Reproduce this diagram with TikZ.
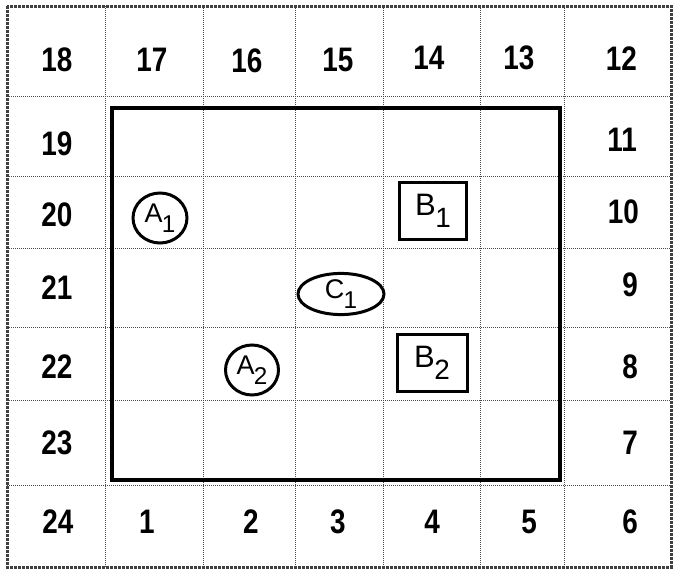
\documentclass[tikz,border=0pt]{standalone}
\usepackage{fontspec}
\setmainfont{Liberation Sans}
\usepackage{graphicx}
\usetikzlibrary{shapes.geometric}
\tikzset{
  gridline/.style={draw=black!70, densely dotted, line width=1pt},
  frameline/.style={draw=black!75, densely dotted, line width=3pt},
  bigbox/.style={draw=black, line width=4pt},
  num/.style={font=\fontsize{34}{34}\selectfont\bfseries, inner sep=0pt},
  rnum/.style={num, anchor=east},
  circ/.style={draw=black, line width=3pt, ellipse, inner sep=0pt},
  sq/.style={draw=black, line width=3pt, rectangle, inner sep=0pt},
  oval/.style={draw=black, line width=3pt, ellipse, inner sep=0pt}
}
\newcommand{\nm}[1]{\scalebox{0.82}[1]{#1}}
\newcommand{\lab}[3]{{\fontsize{#3}{#3}\selectfont #1\kern-0.02em\raisebox{-0.38em}{\fontsize{0.9\dimexpr#3pt}{0}\selectfont #2}}}
\begin{document}
\begin{tikzpicture}[x=1pt,y=-1pt]
\useasboundingbox (0,0) rectangle (673,570);
\fill[white] (0,0) rectangle (673,570);
% grid
\foreach \gx in {105,203,295,383,480,564} \draw[gridline] (\gx,6) -- (\gx,567);
\foreach \gy in {96,176,248,327,400,485} \draw[gridline] (7,\gy) -- (671,\gy);
\draw[frameline] (7,6) rectangle (671,567);
% thick box
\draw[bigbox] (112,108) rectangle (560,480);
% top row
\node[num] (n18) at (57,60) {\nm{18}};
\node[num] (n17) at (152,60) {\nm{17}};
\node[num] (n16) at (247,61) {\nm{16}};
\node[num] (n15) at (338,60) {\nm{15}};
\node[num] (n14) at (429,58) {\nm{14}};
\node[num] (n13) at (519,58) {\nm{13}};
\node[rnum] (n12) at (637,59) {\nm{12}};
% left column
\node[num] (n19) at (57,144) {\nm{19}};
\node[num] (n20) at (57,215) {\nm{20}};
\node[num] (n21) at (57,288) {\nm{21}};
\node[num] (n22) at (57,367) {\nm{22}};
\node[num] (n23) at (57,443) {\nm{23}};
\node[num] (n24) at (58,522) {\nm{24}};
% right column
\node[rnum] (n11) at (637,140) {\nm{11}};
\node[rnum] (n10) at (639,212) {\nm{10}};
\node[rnum] (n9) at (638,285) {\nm{9}};
\node[rnum] (n8) at (638,367) {\nm{8}};
\node[rnum] (n7) at (638,443) {\nm{7}};
\node[rnum] (n6) at (638,522) {\nm{6}};
% bottom row
\node[num] (n1) at (147,522) {\nm{1}};
\node[num] (n2) at (251,522) {\nm{2}};
\node[num] (n3) at (338,522) {\nm{3}};
\node[num] (n4) at (432,522) {\nm{4}};
\node[num] (n5) at (529,522) {\nm{5}};
% symbols
\node[circ, minimum width=54pt, minimum height=50pt] (A1) at (160,218) {\lab{A}{1}{27}};
\node[circ, minimum width=53pt, minimum height=50pt] (A2) at (252,370) {\lab{A}{2}{27}};
\node[sq, minimum width=67pt, minimum height=57pt] (B1) at (433,211) {\lab{B}{1}{31}};
\node[sq, minimum width=70pt, minimum height=57pt] (B2) at (432,363) {\lab{B}{2}{31}};
\node[oval, minimum width=86pt, minimum height=37pt] (C1) at (341,294) {\lab{C}{1}{27}};
\end{tikzpicture}
\end{document}
